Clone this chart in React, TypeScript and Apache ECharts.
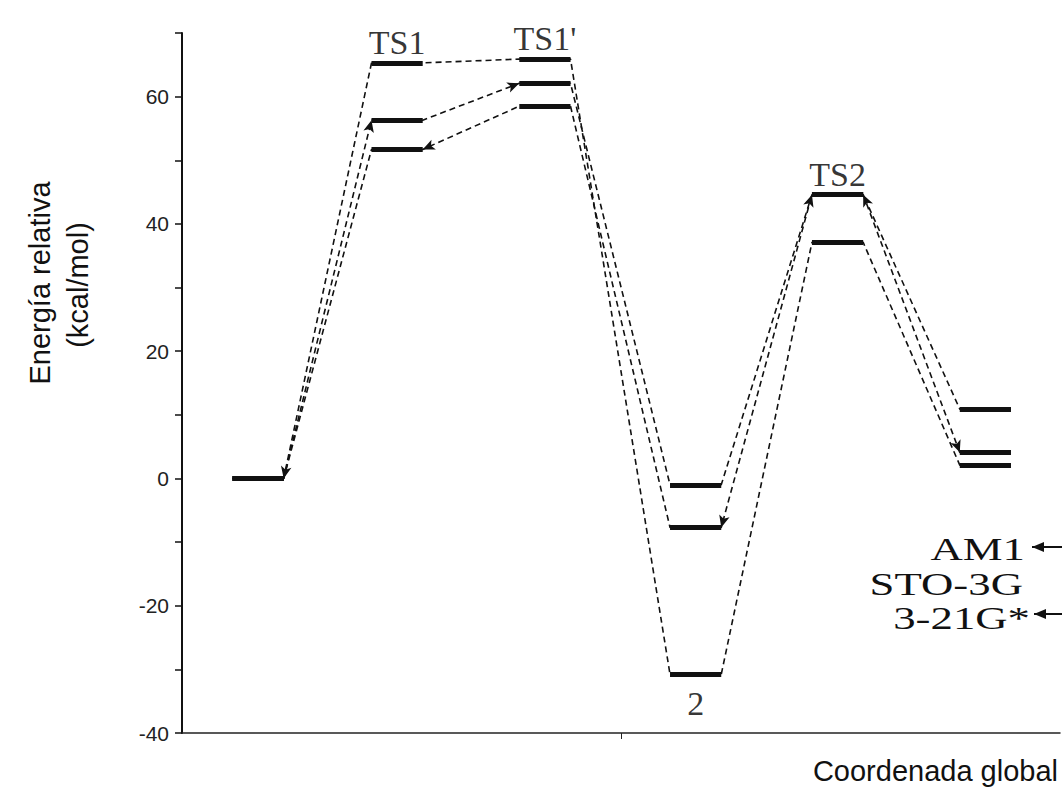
import React, { useEffect, useRef } from 'react';
import * as echarts from 'echarts';

// ---- data ----
const STATIONS = ['R', 'TS1', "TS1'", '2', 'TS2', 'P'];
const STATION_X = [0.52, 1.47, 2.48, 3.51, 4.48, 5.49];
const STATION_LABELS = ['', 'TS1', "TS1'", '2', 'TS2', ''];
const METHODS = ['AM1', 'STO-3G', '3-21G*'];
const AM1 = [0, 56.3, 62.1, -1.0, 44.6, 10.9];
const STO3G = [0, 51.7, 58.5, -7.7, 44.6, 4.1];
const G321 = [0, 65.3, 65.9, -30.8, 37.1, 2.1];
const Y_MIN = -40;
const Y_MAX = 70;
const Y_STEP = 10;
const Y_LABEL_STEP = 20;
const X_TICKS = [3];
// arrows: [method index, segment index (station s -> s+1), which end carries the head]
const ARROWS: [number, number, string][] = [
  [0, 0, 'end'], [0, 1, 'end'], [0, 3, 'end'], [0, 4, 'start'],
  [1, 1, 'start'], [1, 3, 'start'], [1, 4, 'end'],
  [2, 0, 'start'],
];

const LEVEL_HALF = 0.175;
const INK = '#111';
const DASH = [6, 4];
const SANS = '"Liberation Sans", Arial, Helvetica, sans-serif';
const SERIF = '"Liberation Serif", "Times New Roman", serif';

export default function App() {
  const ref = useRef<HTMLDivElement>(null);

  useEffect(() => {
    if (!ref.current) return;
    const chart = echarts.init(ref.current, undefined, { renderer: 'svg' });

    const allLevels = [AM1, STO3G, G321];

    const series: any[] = allLevels.map((levels, m) => {
      const path = levels.flatMap((y, i) => [
        [STATION_X[i] - LEVEL_HALF, y],
        [STATION_X[i] + LEVEL_HALF, y],
      ]);
      const bars = levels.map((y, i) => [
        { coord: [STATION_X[i] - LEVEL_HALF, y], symbol: 'none' },
        { coord: [STATION_X[i] + LEVEL_HALF, y], symbol: 'none' },
      ]);
      // arrow heads only (the dashed connector itself comes from the series path)
      const arrows = ARROWS.filter((a) => a[0] === m).map(([, s, end]) => [
        {
          coord: [STATION_X[s] + LEVEL_HALF, levels[s]],
          symbol: end === 'start' ? 'arrow' : 'none',
          symbolSize: [8, 12],
        },
        {
          coord: [STATION_X[s + 1] - LEVEL_HALF, levels[s + 1]],
          symbol: end === 'end' ? 'arrow' : 'none',
          symbolSize: [8, 12],
          lineStyle: { type: 'solid', width: 0, color: INK },
        },
      ]);
      return {
        name: METHODS[m],
        type: 'line',
        data: path,
        showSymbol: false,
        symbol: 'none',
        lineStyle: { color: INK, width: 1.6, type: DASH },
        z: 2,
        markLine: {
          silent: true,
          symbol: ['none', 'none'],
          label: { show: false },
          emphasis: { disabled: true },
          lineStyle: { type: 'solid', width: 5, color: INK },
          data: [...bars, ...arrows],
        },
      };
    });

    const labelData = STATION_LABELS.map((t, i) => {
      if (!t) return null;
      const vals = allLevels.map((l) => l[i]);
      const below = t === '2';
      const y = below ? Math.min(...vals) : Math.max(...vals);
      return {
        name: t,
        value: [STATION_X[i], y],
        label: { position: below ? 'bottom' : 'top', distance: below ? 12 : 3 },
      };
    }).filter(Boolean);

    series.push({
      name: 'stations',
      type: 'scatter',
      data: labelData,
      symbolSize: 1,
      itemStyle: { color: 'transparent' },
      silent: true,
      z: 5,
      label: {
        show: true,
        formatter: '{b}',
        fontFamily: SERIF,
        fontSize: 34,
        color: '#000',
      },
    });

    const legendY = [549, 584, 618];
    const legendFont = `32px ${SERIF}`;
    const legendScale = 1.4;
    const graphic: any[] = [
      {
        type: 'text',
        x: 40,
        y: 283,
        rotation: Math.PI / 2,
        style: { text: 'Energía relativa', font: `29px ${SANS}`, fill: INK, align: 'center', verticalAlign: 'middle' },
      },
      {
        type: 'text',
        x: 78,
        y: 285,
        rotation: Math.PI / 2,
        style: { text: '(kcal/mol)', font: `29px ${SANS}`, fill: INK, align: 'center', verticalAlign: 'middle' },
      },
      {
        type: 'text',
        x: 1058,
        y: 771,
        style: { text: 'Coordenada global', font: `29px ${SANS}`, fill: INK, align: 'right', verticalAlign: 'middle' },
      },
      {
        type: 'text', x: 1025, y: legendY[0], scaleX: legendScale,
        style: { text: METHODS[0], font: legendFont, fill: INK, align: 'right', verticalAlign: 'middle' },
      },
      {
        type: 'text', x: 1023, y: legendY[1], scaleX: legendScale,
        style: { text: METHODS[1], font: legendFont, fill: INK, align: 'right', verticalAlign: 'middle' },
      },
      {
        type: 'text', x: 1030, y: legendY[2], scaleX: legendScale,
        style: { text: METHODS[2], font: legendFont, fill: INK, align: 'right', verticalAlign: 'middle' },
      },
      {
        type: 'line',
        shape: { x1: 1032, y1: legendY[0] - 2, x2: 1062, y2: legendY[0] - 2 },
        style: { stroke: INK, lineWidth: 2 },
      },
      {
        type: 'polygon',
        shape: { points: [[1032, legendY[0] - 2], [1044, legendY[0] - 7], [1044, legendY[0] + 3]] },
        style: { fill: INK },
      },
      {
        type: 'line',
        shape: { x1: 1034, y1: legendY[2] - 4, x2: 1062, y2: legendY[2] - 4 },
        style: { stroke: INK, lineWidth: 2 },
      },
      {
        type: 'polygon',
        shape: { points: [[1034, legendY[2] - 4], [1046, legendY[2] - 9], [1046, legendY[2] + 1]] },
        style: { fill: INK },
      },
    ];

    chart.setOption({
      animation: false,
      backgroundColor: '#ffffff',
      grid: { left: 182, right: 3, top: 33, bottom: 61, containLabel: false },
      xAxis: {
        type: 'value',
        min: 0,
        max: 6,
        interval: 3,
        axisLine: { show: true, onZero: false, lineStyle: { color: '#222', width: 1.5 } },
        axisTick: { show: true, length: 6, customValues: X_TICKS, lineStyle: { color: '#222' } },
        axisLabel: { show: false },
        splitLine: { show: false },
      },
      yAxis: {
        type: 'value',
        min: Y_MIN,
        max: Y_MAX,
        interval: Y_STEP,
        axisLine: { show: true, onZero: false, lineStyle: { color: INK, width: 2 } },
        axisTick: { show: true, length: 7, lineStyle: { color: INK, width: 1.5 } },
        axisLabel: {
          formatter: (v: number) => (v % Y_LABEL_STEP === 0 && v <= 60 ? String(v) : ''),
          fontSize: 21,
          fontFamily: SANS,
          color: '#222',
          margin: 13,
        },
        splitLine: { show: false },
      },
      series,
      graphic,
    });

    return () => chart.dispose();
  }, []);

  return (
    <div
      ref={ref}
      style={{ position: 'fixed', left: 0, top: 0, width: 1063, height: 794, background: '#fff' }}
    />
  );
}
